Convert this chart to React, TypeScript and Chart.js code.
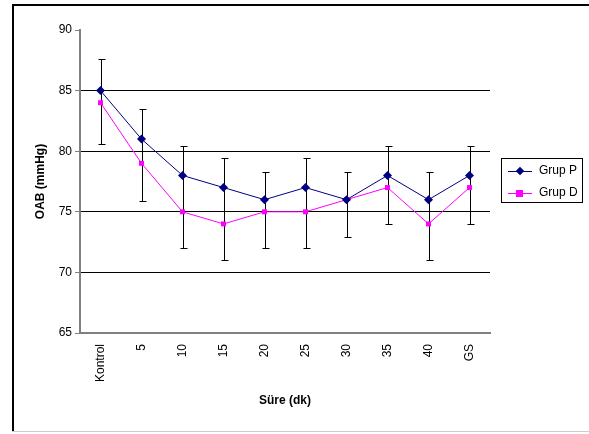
import React, { useEffect, useRef } from "react";
import { Chart, registerables } from "chart.js";

Chart.register(...registerables);

const categories = ["Kontrol", "5", "10", "15", "20", "25", "30", "35", "40", "GS"];
const grupP = [85, 81, 78, 77, 76, 77, 76, 78, 76, 78];
const grupD = [84, 79, 75, 74, 75, 75, 76, 77, 74, 77];
const grupPUpper = [87.6, 83.5, 80.4, 79.4, 78.3, 79.4, 78.3, 80.4, 78.3, 80.4];
const grupDLower = [80.6, 75.9, 72, 71, 72, 72, 72.9, 74, 71, 74];
const yTicks = [65, 70, 75, 80, 85, 90];

const errorBarPlugin = {
  id: "errorBars",
  beforeDatasetsDraw(chart: any) {
    const { ctx, scales } = chart;
    const x = scales.x;
    const y = scales.y;
    ctx.save();
    ctx.strokeStyle = "#000";
    ctx.lineWidth = 1;
    categories.forEach((_, i) => {
      const px = Math.round(x.getPixelForValue(i)) + 0.5;
      const top = Math.round(y.getPixelForValue(grupPUpper[i])) + 0.5;
      const bot = Math.round(y.getPixelForValue(grupDLower[i])) + 0.5;
      ctx.beginPath();
      ctx.moveTo(px, top);
      ctx.lineTo(px, bot);
      ctx.moveTo(px - 3, top);
      ctx.lineTo(px + 4, top);
      ctx.moveTo(px - 3, bot);
      ctx.lineTo(px + 4, bot);
      ctx.stroke();
    });
    ctx.restore();
  },
};

const frameBorderPlugin = {
  id: "frameBorder",
  afterDraw(chart: any) {
    const { ctx } = chart;
    ctx.save();
    ctx.fillStyle = "#000";
    ctx.fillRect(12, 4, 577, 2);
    ctx.fillRect(12, 4, 2, 428);
    ctx.fillStyle = "#ccc";
    ctx.fillRect(12, 431, 577, 1);
    ctx.restore();
  },
};

export default function App() {
  const ref = useRef<HTMLCanvasElement>(null);
  useEffect(() => {
    const chart = new Chart(ref.current!, {
      type: "line",
      data: {
        labels: categories,
        datasets: [
          {
            label: "Grup P",
            data: grupP,
            borderColor: "#000080",
            backgroundColor: "#000080",
            borderWidth: 1,
            pointStyle: "rectRot",
            pointRadius: 4.5,
            pointBorderWidth: 0,
            tension: 0,
          },
          {
            label: "Grup D",
            data: grupD,
            borderColor: "#FF00FF",
            backgroundColor: "#FF00FF",
            borderWidth: 1,
            pointStyle: "rect",
            pointRadius: 3.5,
            pointBorderWidth: 0,
            tension: 0,
          },
        ],
      },
      options: {
        animation: false,
        responsive: false,
        layout: { padding: { left: 0, right: 99, top: 30, bottom: 0 } },
        plugins: { legend: { display: false }, tooltip: { enabled: false } },
        scales: {
          x: {
            offset: true,
            grid: { display: false, drawTicks: false },
            border: { display: true, color: "#808080", width: 2 },
            ticks: {
              minRotation: 90,
              maxRotation: 90,
              padding: 11,
              color: "#000",
              font: { family: "Arial, 'Liberation Sans'", size: 12 },
            },
            title: {
              display: true,
              text: "Süre (dk)",
              color: "#000",
              font: { family: "Arial, 'Liberation Sans'", size: 12, weight: "bold" },
              padding: { top: 0, bottom: 26 },
            },
            afterFit: (s: any) => {
              s.height = 101;
            },
          },
          y: {
            min: 65,
            max: 90,
            afterBuildTicks: (s: any) => {
              s.ticks = yTicks.map((v) => ({ value: v }));
            },
            grid: {
              color: (c: any) =>
                c.tick && (c.tick.value === 90 || c.tick.value === 65) ? "rgba(0,0,0,0)" : "#000",
              tickColor: "#808080",
              tickLength: 5,
            },
            border: { display: true, color: "#808080", width: 2 },
            ticks: {
              color: "#000",
              padding: 3,
              font: { family: "Arial, 'Liberation Sans'", size: 12 },
            },
            title: {
              display: true,
              text: "OAB (mmHg)",
              color: "#000",
              font: { family: "Arial, 'Liberation Sans'", size: 12, weight: "bold" },
              padding: { top: 33, bottom: 0 },
            },
            afterFit: (s: any) => {
              s.width = 80;
            },
          },
        },
      },
      plugins: [errorBarPlugin, frameBorderPlugin],
    });
    return () => chart.destroy();
  }, []);

  const font = "Arial, 'Liberation Sans', sans-serif";
  return (
    <div style={{ position: "absolute", left: 0, top: 0, width: 589, height: 434, background: "#fff", overflow: "hidden" }}>
      <canvas ref={ref} width={589} height={434} style={{ position: "absolute", left: 0, top: 0 }} />
      <div
        style={{
          position: "absolute",
          left: 501,
          top: 158,
          width: 80,
          height: 43,
          border: "1px solid #000",
          fontFamily: font,
          fontSize: 12,
          color: "#000",
        }}
      >
        <div style={{ position: "absolute", left: 6, top: 12, width: 24, height: 1, background: "#000080" }} />
        <div
          style={{
            position: "absolute",
            left: 15,
            top: 9,
            width: 6,
            height: 6,
            background: "#000080",
            transform: "rotate(45deg)",
          }}
        />
        <div style={{ position: "absolute", left: 37, top: 4, lineHeight: "15px" }}>Grup P</div>
        <div style={{ position: "absolute", left: 6, top: 34, width: 24, height: 1, background: "#FF00FF" }} />
        <div style={{ position: "absolute", left: 14, top: 31, width: 7, height: 7, background: "#FF00FF" }} />
        <div style={{ position: "absolute", left: 37, top: 26, lineHeight: "15px" }}>Grup D</div>
      </div>
    </div>
  );
}
